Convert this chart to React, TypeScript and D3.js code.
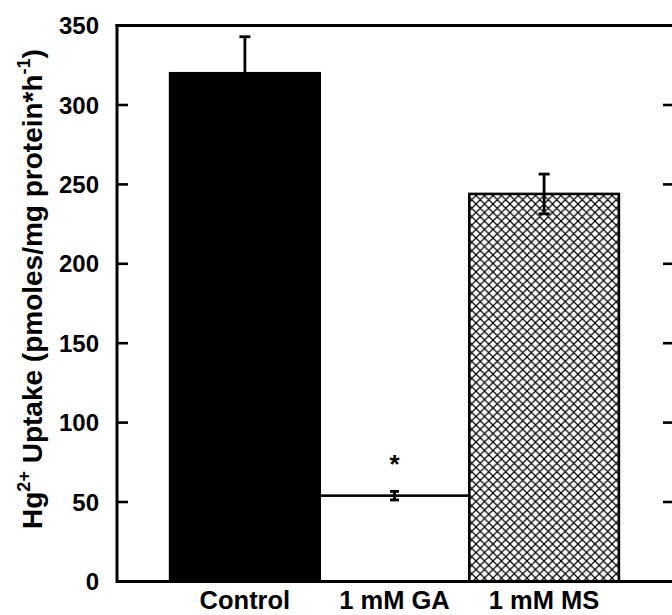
import React from "react";
import * as d3 from "d3";

const categories = ["Control", "1 mM GA", "1 mM MS"];
const means = [320, 54, 244];
const errors = [23, 2.7, 12.5];
const significance = ["", "*", ""];
const yTicks = [0, 50, 100, 150, 200, 250, 300, 350];

const W = 672;
const H = 615;
const FONT = "'Liberation Sans', Arial, Helvetica, sans-serif";

export default function App() {
  const left = 117;
  const right = 674;
  const top = 25.6;
  const bottom = 581.4;

  const y = d3.scaleLinear().domain([0, 350]).range([bottom, top]);
  const x = d3
    .scaleBand<string>()
    .domain(categories)
    .range([left, 672])
    .paddingInner(0)
    .paddingOuter(0.355);

  const fills = ["#000", "#fff", "url(#hatch)"];

  return (
    <svg
      width={W}
      height={H}
      style={{ position: "absolute", left: 0, top: 0, background: "#fff" }}
      fontFamily={FONT}
    >
      <defs>
        <pattern id="hatch" patternUnits="userSpaceOnUse" width={8.5} height={8.5}>
          <rect width={8.5} height={8.5} fill="#fff" />
          <path d="M-1,-1 L9.5,9.5 M-1,9.5 L9.5,-1 M-4.25,4.25 L4.25,12.75 M4.25,-4.25 L12.75,4.25 M-4.25,4.25 L4.25,-4.25 M4.25,12.75 L12.75,4.25" stroke="#000" strokeWidth={1.25} />
        </pattern>
      </defs>

      {/* bars */}
      {categories.map((c, i) => {
        const x0 = x(c)!;
        const bw = x.bandwidth();
        return (
          <rect
            key={c}
            x={x0}
            y={y(means[i])}
            width={bw}
            height={bottom - y(means[i])}
            fill={fills[i]}
            stroke="#000"
            strokeWidth={2.6}
          />
        );
      })}

      {/* error bars */}
      {categories.map((c, i) => {
        const cx = x(c)! + x.bandwidth() / 2;
        const hi = y(means[i] + errors[i]);
        const lo = y(means[i] - errors[i]);
        const cap = i === 1 ? 4.5 : 5.5;
        return (
          <g key={c + "e"} stroke="#000" strokeWidth={2.8}>
            <line x1={cx} x2={cx} y1={hi} y2={lo} />
            <line x1={cx - cap} x2={cx + cap} y1={hi} y2={hi} />
            <line x1={cx - cap} x2={cx + cap} y1={lo} y2={lo} />
          </g>
        );
      })}

      {/* significance */}
      {categories.map((c, i) =>
        significance[i] ? (
          <text
            key={c + "s"}
            x={x(c)! + x.bandwidth() / 2}
            y={y(means[i] + errors[i]) - 18}
            textAnchor="middle"
            fontSize={26}
            fontWeight="bold"
          >
            {significance[i]}
          </text>
        ) : null
      )}

      {/* frame */}
      <g stroke="#000" strokeWidth={3} fill="none">
        <line x1={left} x2={left} y1={top - 1.5} y2={bottom + 1.5} />
        <line x1={left} x2={right + 2} y1={bottom} y2={bottom} />
        <line x1={left - 1.5} x2={right + 2} y1={top} y2={top} />
        <line x1={right} x2={right} y1={top} y2={bottom} />
      </g>

      {/* ticks */}
      {yTicks.map((t) => (
        <g key={t}>
          <line x1={left} x2={left + 11} y1={y(t)} y2={y(t)} stroke="#000" strokeWidth={2.6} />
          <line x1={right - 11} x2={right} y1={y(t)} y2={y(t)} stroke="#000" strokeWidth={2.6} />
          <text
            x={99}
            y={y(t)}
            dy="0.36em"
            textAnchor="end"
            fontSize={24}
            fontWeight="bold"
          >
            {t}
          </text>
        </g>
      ))}

      {/* category labels */}
      {categories.map((c) => (
        <text
          key={c + "l"}
          x={x(c)! + x.bandwidth() / 2}
          y={609}
          textAnchor="middle"
          fontSize={25.5}
          fontWeight="bold"
        >
          {c}
        </text>
      ))}

      {/* y label */}
      <text
        transform={`translate(42, 289) rotate(-90)`}
        textAnchor="middle"
        fontSize={28}
        fontWeight="bold"
      >
        Hg
        <tspan fontSize={18} dy={-12}>2+</tspan>
        <tspan dy={12}> Uptake (pmoles/mg protein*h</tspan>
        <tspan fontSize={18} dy={-12}>-1</tspan>
        <tspan dy={12}>)</tspan>
      </text>
    </svg>
  );
}
